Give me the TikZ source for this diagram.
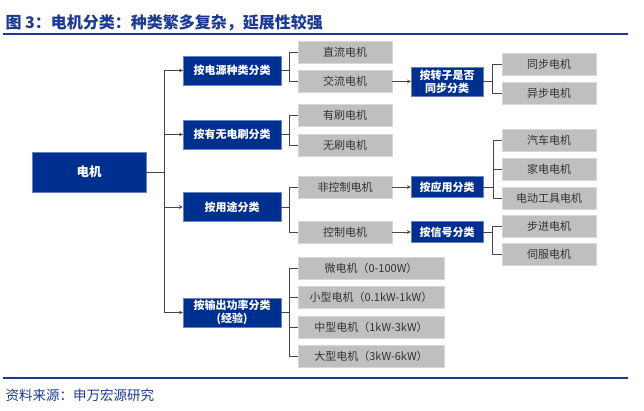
\documentclass[tikz,border=0pt]{standalone}
\usepackage{fontspec}
\setmainfont{Noto Sans CJK SC}
\definecolor{boxblue}{RGB}{0,48,143}
\definecolor{boxgray}{RGB}{191,191,191}
\definecolor{boxedge}{RGB}{215,215,215}
\definecolor{textgray}{RGB}{50,50,50}
\definecolor{linegray}{RGB}{70,70,70}
\definecolor{titleblue}{RGB}{28,58,148}
\begin{document}
\begin{tikzpicture}[x=1pt, y=-1pt,
            bluebox/.style={fill=boxblue, draw=boxblue!60!white, text=white, inner sep=0pt, align=center,
                font=\bfseries\fontsize{11}{13}\selectfont, minimum height=21pt},
            graybox/.style={fill=boxgray, draw=boxedge, text=textgray, inner sep=0pt,
                font=\fontsize{11}{13}\selectfont, minimum height=22pt},
            link/.style={draw=linegray, line width=0.7pt},
            arrow/.style={->, >=stealth, draw=linegray, line width=0.7pt},
            rule/.style={draw=titleblue, line width=1.2pt}
        ]
        \useasboundingbox (0,0) rectangle (644,411);

        % --- title and source ---
        \node[anchor=west, text=titleblue, font=\bfseries\fontsize{16}{18}\selectfont] (title) at (2,23) {图 3：电机分类：种类繁多复杂，延展性较强};
        \draw[rule] (3,34) -- (628,34);
        \draw[rule] (3,378) -- (628,378);
        \node[anchor=west, text=titleblue, font=\fontsize{13.5}{15}\selectfont] (source) at (2,395) {资料来源：申万宏源研究};

        % --- root ---
        \node[bluebox, minimum width=114pt, minimum height=40pt, font=\bfseries\fontsize{12.5}{14}\selectfont] (motor) at (89,172) {电机};

        % --- first level ---
        \node[bluebox, minimum width=98pt, minimum height=29pt] (src) at (232,70.5) {按电源种类分类};
        \node[bluebox, minimum width=98pt, minimum height=29pt] (brush) at (232,134.5) {按有无电刷分类};
        \node[bluebox, minimum width=98pt, minimum height=29pt] (use) at (232,207) {按用途分类};
        \node[bluebox, minimum width=98pt, minimum height=29pt] (power) at (232,312.5) {按输出功率分类\\(经验)};

        \coordinate (trunk) at (164,172);
        \draw[link] (motor.east) -- (trunk);
        \foreach \n in {src,brush,use,power}
            \draw[arrow] (trunk) |- (\n.west);

        % --- second level ---
        \node[graybox, minimum width=94pt] (dc) at (345,52) {直流电机};
        \node[graybox, minimum width=94pt] (ac) at (345,81.5) {交流电机};
        \node[graybox, minimum width=94pt] (brushed) at (345,115.5) {有刷电机};
        \node[graybox, minimum width=94pt] (brushless) at (345,145.5) {无刷电机};
        \node[graybox, minimum width=94pt] (nonctrl) at (345,187) {非控制电机};
        \node[graybox, minimum width=94pt] (ctrl) at (345,232) {控制电机};
        \node[graybox, minimum width=146pt] (micro) at (371,268) {微电机（0-100W）};
        \node[graybox, minimum width=146pt] (small) at (371,297.5) {小型电机（0.1kW-1kW）};
        \node[graybox, minimum width=146pt] (medium) at (371,327) {中型电机（1kW-3kW）};
        \node[graybox, minimum width=146pt] (large) at (371,356) {大型电机（3kW-6kW）};

        \draw[link] (src.east) -- ++(8,0) coordinate (srcfork);
        \foreach \n in {dc,ac} \draw[link] (srcfork) |- (\n.west);
        \draw[link] (brush.east) -- ++(8,0) coordinate (brushfork);
        \foreach \n in {brushed,brushless} \draw[link] (brushfork) |- (\n.west);
        \draw[link] (use.east) -- ++(8,0) coordinate (usefork);
        \foreach \n in {nonctrl,ctrl} \draw[link] (usefork) |- (\n.west);
        \draw[link] (power.east) -- ++(8,0) coordinate (powerfork);
        \foreach \n in {micro,small,medium,large} \draw[link] (powerfork) |- (\n.west);

        % --- third level ---
        \node[bluebox, minimum width=72pt, minimum height=29pt] (sync) at (447,81.5) {按转子是否\\同步分类};
        \node[bluebox, minimum width=72pt] (app) at (447,187) {按应用分类};
        \node[bluebox, minimum width=72pt] (signal) at (447,232) {按信号分类};
        \draw[arrow] (ac.east) -- (sync.west);
        \draw[arrow] (nonctrl.east) -- (app.west);
        \draw[arrow] (ctrl.east) -- (signal.west);

        % --- fourth level ---
        \node[graybox, minimum width=94pt] (syn) at (549,64) {同步电机};
        \node[graybox, minimum width=94pt] (asyn) at (549,93) {异步电机};
        \node[graybox, minimum width=94pt] (car) at (549,140) {汽车电机};
        \node[graybox, minimum width=94pt] (home) at (549,169.5) {家电电机};
        \node[graybox, minimum width=94pt] (tool) at (549,198.5) {电动工具电机};
        \node[graybox, minimum width=94pt] (stepper) at (549,226.5) {步进电机};
        \node[graybox, minimum width=94pt] (servo) at (549,254.5) {伺服电机};

        \draw[link] (sync.east) -- ++(9,0) coordinate (syncfork);
        \foreach \n in {syn,asyn} \draw[link] (syncfork) |- (\n.west);
        \draw[link] (app.east) -- ++(10,0) coordinate (appfork);
        \foreach \n in {car,home,tool} \draw[link] (appfork) |- (\n.west);
        \draw[link] (signal.east) -- ++(9,0) coordinate (signalfork);
        \foreach \n in {stepper,servo} \draw[link] (signalfork) |- (\n.west);
        \end{tikzpicture}
\end{document}
